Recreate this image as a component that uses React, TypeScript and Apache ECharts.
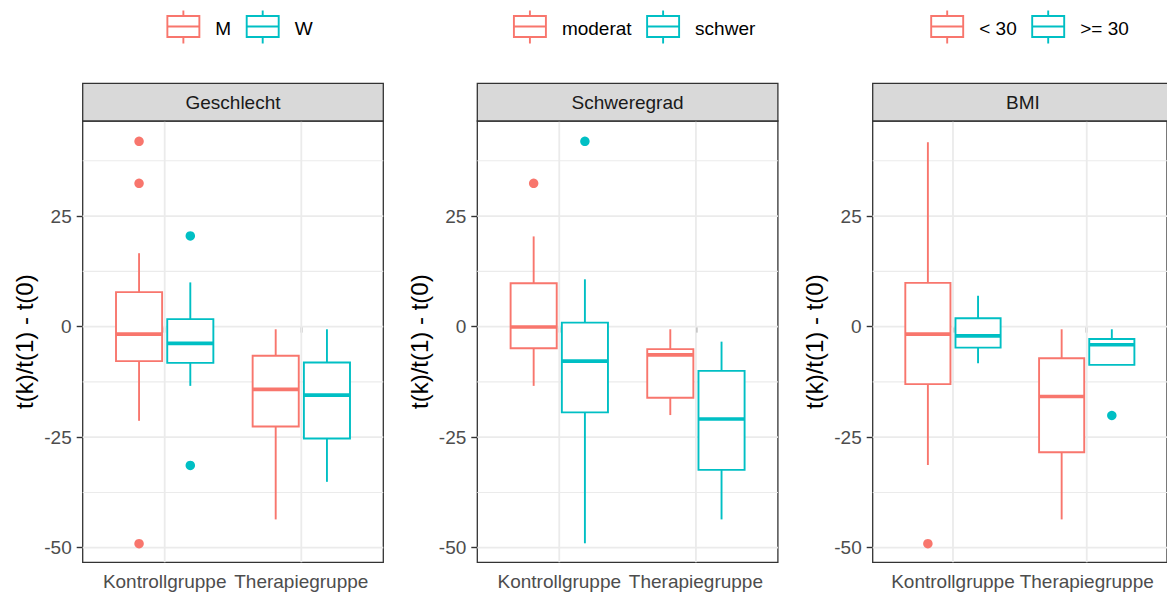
import React, { useEffect, useRef } from 'react';
import * as echarts from 'echarts';

// Categories on the x axis of every panel
const categories = ['Kontrollgruppe', 'Therapiegruppe'];
const facetTitles = ['Geschlecht', 'Schweregrad', 'BMI'];
const groupLabels = [
  ['M', 'W'],
  ['moderat', 'schwer'],
  ['< 30', '>= 30'],
];
const yTicks = [-50, -25, 0, 25];
const yMinorTicks = [-37.5, -12.5, 12.5, 37.5];
const yTitle = 't(k)/t(1) - t(0)';

// Box statistics per category: [lower whisker, Q1, median, Q3, upper whisker]
const geschlechtM = [
  [-21.3, -7.8, -1.7, 7.8, 16.6],
  [-43.6, -22.6, -14.2, -6.6, -0.6],
];
const geschlechtW = [
  [-13.4, -8.2, -3.8, 1.7, 10.0],
  [-35.1, -25.3, -15.5, -8.1, -0.6],
];
const geschlechtMOutliers = [[41.9, 32.4, -49.1], []];
const geschlechtWOutliers = [[20.5, -31.4], []];

const schwereModerat = [
  [-13.4, -4.9, -0.1, 9.8, 20.4],
  [-20.0, -16.1, -6.4, -5.1, -0.6],
];
const schwereSchwer = [
  [-49.0, -19.4, -7.8, 0.9, 10.7],
  [-43.6, -32.4, -20.9, -10.0, -3.4],
];
const schwereModeratOutliers = [[32.4], []];
const schwereSchwerOutliers = [[41.9], []];

const bmiUnder30 = [
  [-31.3, -13.0, -1.7, 9.9, 41.7],
  [-43.6, -28.4, -15.8, -7.15, -0.6],
];
const bmiOver30 = [
  [-8.3, -4.75, -2.1, 1.9, 7.0],
  [-8.65, -8.65, -4.1, -2.8, -0.6],
];
const bmiUnder30Outliers = [[-49.1], []];
const bmiOver30Outliers = [[], [-20.1]];

const facetBoxes = [
  [geschlechtM, geschlechtW],
  [schwereModerat, schwereSchwer],
  [bmiUnder30, bmiOver30],
];
const facetOutliers = [
  [geschlechtMOutliers, geschlechtWOutliers],
  [schwereModeratOutliers, schwereSchwerOutliers],
  [bmiUnder30Outliers, bmiOver30Outliers],
];

const COLORS = ['#F8766D', '#00BFC4'];
const FONT = 'Liberation Sans, Arial, Helvetica, sans-serif';
const TEXT_SIZE = 19;
const TITLE_SIZE = 24;
const LINE_W = 1.9;
const MEDIAN_W = 3.6;

// Panel geometry (pixels)
const PANEL_LEFT = [82.7, 477.3, 872.7];
const PANEL_WIDTH = 300.6;
const PANEL_TOP = 121;
const PANEL_HEIGHT = 441.3;
const STRIP_TOP = 83.3;
const STRIP_HEIGHT = 37.7;

const DODGE = 0.1875; // half dodge width in category units
const BOX_WIDTH = 0.3375;

function measure(text: string, size: number): number {
  const ctx = document.createElement('canvas').getContext('2d');
  if (!ctx) return text.length * size * 0.55;
  ctx.font = `${size}px ${FONT}`;
  return ctx.measureText(text).width;
}

function boxRenderItem(color: string) {
  return (params: any, api: any) => {
    const x = api.value(0);
    const low = api.coord([x, api.value(1)]);
    const q1 = api.coord([x, api.value(2)]);
    const med = api.coord([x, api.value(3)]);
    const q3 = api.coord([x, api.value(4)]);
    const high = api.coord([x, api.value(5)]);
    const half = api.size([BOX_WIDTH, 0])[0] / 2;
    const cx = q1[0];
    const lineStyle = { stroke: color, lineWidth: LINE_W, fill: null };
    return {
      type: 'group',
      children: [
        { type: 'line', shape: { x1: cx, y1: high[1], x2: cx, y2: q3[1] }, style: lineStyle },
        { type: 'line', shape: { x1: cx, y1: q1[1], x2: cx, y2: low[1] }, style: lineStyle },
        {
          type: 'rect',
          shape: { x: cx - half, y: q3[1], width: half * 2, height: q1[1] - q3[1] },
          style: { stroke: color, lineWidth: LINE_W, fill: '#ffffff' },
        },
        {
          type: 'line',
          shape: { x1: cx - half, y1: med[1], x2: cx + half, y2: med[1] },
          style: { stroke: color, lineWidth: MEDIAN_W },
        },
      ],
    };
  };
}

function gridLinesRenderItem(params: any, api: any) {
  const cs = params.coordSys;
  const children: any[] = [];
  yMinorTicks.forEach((v) => {
    const y = api.coord([1, v])[1];
    children.push({
      type: 'line',
      shape: { x1: cs.x, y1: y, x2: cs.x + cs.width, y2: y },
      style: { stroke: '#EBEBEB', lineWidth: 1.1 },
    });
  });
  yTicks.forEach((v) => {
    const y = api.coord([1, v])[1];
    children.push({
      type: 'line',
      shape: { x1: cs.x, y1: y, x2: cs.x + cs.width, y2: y },
      style: { stroke: '#EBEBEB', lineWidth: 1.8 },
    });
  });
  categories.forEach((_, i) => {
    const x = api.coord([i + 1, 0])[0];
    children.push({
      type: 'line',
      shape: { x1: x, y1: cs.y, x2: x, y2: cs.y + cs.height },
      style: { stroke: '#EBEBEB', lineWidth: 1.8 },
    });
  });
  return { type: 'group', children };
}

function buildOption() {
  const grid: any[] = [];
  const xAxis: any[] = [];
  const yAxis: any[] = [];
  const series: any[] = [];
  const graphic: any[] = [];

  facetTitles.forEach((title, f) => {
    grid.push({
      left: PANEL_LEFT[f],
      top: PANEL_TOP,
      width: PANEL_WIDTH,
      height: PANEL_HEIGHT,
      show: true,
      backgroundColor: '#ffffff',
      borderColor: '#333333',
      borderWidth: 1.3,
      containLabel: false,
    });
    xAxis.push({
      type: 'value',
      gridIndex: f,
      min: 0.4,
      max: 2.6,
      axisLine: { show: false },
      splitLine: { show: false },
      axisTick: {
        show: true,
        customValues: [1, 2],
        length: 6,
        lineStyle: { color: '#333333', width: 1.4 },
      },
      axisLabel: {
        customValues: [1, 2],
        formatter: (v: number) => categories[Math.round(v) - 1] ?? '',
        color: '#4D4D4D',
        fontSize: TEXT_SIZE,
        fontFamily: FONT,
        margin: 10,
        hideOverlap: false,
      },
    });
    yAxis.push({
      type: 'value',
      gridIndex: f,
      min: -53.3,
      max: 46.5,
      axisLine: { show: false },
      splitLine: { show: false },
      axisTick: {
        show: true,
        customValues: yTicks,
        length: 6,
        lineStyle: { color: '#333333', width: 1.4 },
      },
      axisLabel: {
        customValues: yTicks,
        color: '#4D4D4D',
        fontSize: TEXT_SIZE,
        fontFamily: FONT,
        margin: 11,
      },
      name: yTitle,
      nameLocation: 'middle',
      nameGap: 46,
      nameTextStyle: { fontSize: TITLE_SIZE, color: '#000000', fontFamily: FONT },
    });

    series.push({
      type: 'custom',
      xAxisIndex: f,
      yAxisIndex: f,
      silent: true,
      z: 1,
      data: [[1, 0]],
      renderItem: gridLinesRenderItem,
    });

    facetBoxes[f].forEach((stats, g) => {
      const offset = g === 0 ? -DODGE : DODGE;
      series.push({
        type: 'custom',
        name: groupLabels[f][g],
        xAxisIndex: f,
        yAxisIndex: f,
        z: 3,
        encode: { x: 0, y: [1, 2, 3, 4, 5] },
        data: stats.map((s, ci) => [ci + 1 + offset, ...s]),
        renderItem: boxRenderItem(COLORS[g]),
      });
      const pts: number[][] = [];
      facetOutliers[f][g].forEach((vals, ci) => {
        vals.forEach((v) => pts.push([ci + 1 + offset, v]));
      });
      series.push({
        type: 'scatter',
        name: groupLabels[f][g],
        xAxisIndex: f,
        yAxisIndex: f,
        z: 4,
        symbol: 'circle',
        symbolSize: 9.5,
        itemStyle: { color: COLORS[g], opacity: 1 },
        data: pts,
      });
    });

    // facet strip
    graphic.push({
      type: 'rect',
      shape: { x: PANEL_LEFT[f], y: STRIP_TOP, width: PANEL_WIDTH, height: STRIP_HEIGHT },
      style: { fill: '#D9D9D9', stroke: '#333333', lineWidth: 1.3 },
      z: 10,
    });
    graphic.push({
      type: 'text',
      style: {
        text: title,
        x: PANEL_LEFT[f] + PANEL_WIDTH / 2,
        y: STRIP_TOP + STRIP_HEIGHT / 2,
        textAlign: 'center',
        textVerticalAlign: 'middle',
        fill: '#1A1A1A',
        fontSize: TEXT_SIZE,
        fontFamily: FONT,
      },
      z: 11,
    });

    // legend above each panel
    const keyW = 32;
    const keyGap = 16;
    const itemGap = 15.5;
    const widths = groupLabels[f].map((t) => measure(t, TEXT_SIZE));
    const total = keyW * 2 + keyGap * 2 + widths[0] + widths[1] + itemGap;
    let lx = PANEL_LEFT[f] + PANEL_WIDTH / 2 + 7 - total / 2;
    groupLabels[f].forEach((label, g) => {
      const st = { stroke: COLORS[g], lineWidth: LINE_W, fill: null };
      const mid = lx + keyW / 2;
      graphic.push({
        type: 'group',
        children: [
          { type: 'line', shape: { x1: mid, y1: 10.5, x2: mid, y2: 16 }, style: st },
          { type: 'line', shape: { x1: mid, y1: 37, x2: mid, y2: 43.5 }, style: st },
          { type: 'rect', shape: { x: lx, y: 16, width: keyW, height: 21 }, style: { ...st, fill: '#ffffff' } },
          { type: 'line', shape: { x1: lx, y1: 26.5, x2: lx + keyW, y2: 26.5 }, style: st },
        ],
      });
      graphic.push({
        type: 'text',
        style: {
          text: label,
          x: lx + keyW + keyGap,
          y: 28,
          textAlign: 'left',
          textVerticalAlign: 'middle',
          fill: '#000000',
          fontSize: TEXT_SIZE,
          fontFamily: FONT,
        },
      });
      lx += keyW + keyGap + widths[g] + itemGap;
    });
  });

  return {
    animation: false,
    backgroundColor: '#ffffff',
    textStyle: { fontFamily: FONT },
    grid,
    xAxis,
    yAxis,
    series,
    graphic,
  };
}

export default function App() {
  const ref = useRef<HTMLDivElement>(null);
  useEffect(() => {
    if (!ref.current) return;
    const chart = echarts.init(ref.current, undefined, { renderer: 'svg' });
    chart.setOption(buildOption() as any);
    return () => chart.dispose();
  }, []);
  return (
    <div
      ref={ref}
      style={{ position: 'absolute', left: 0, top: 0, width: 1167, height: 593, overflow: 'hidden' }}
    />
  );
}
